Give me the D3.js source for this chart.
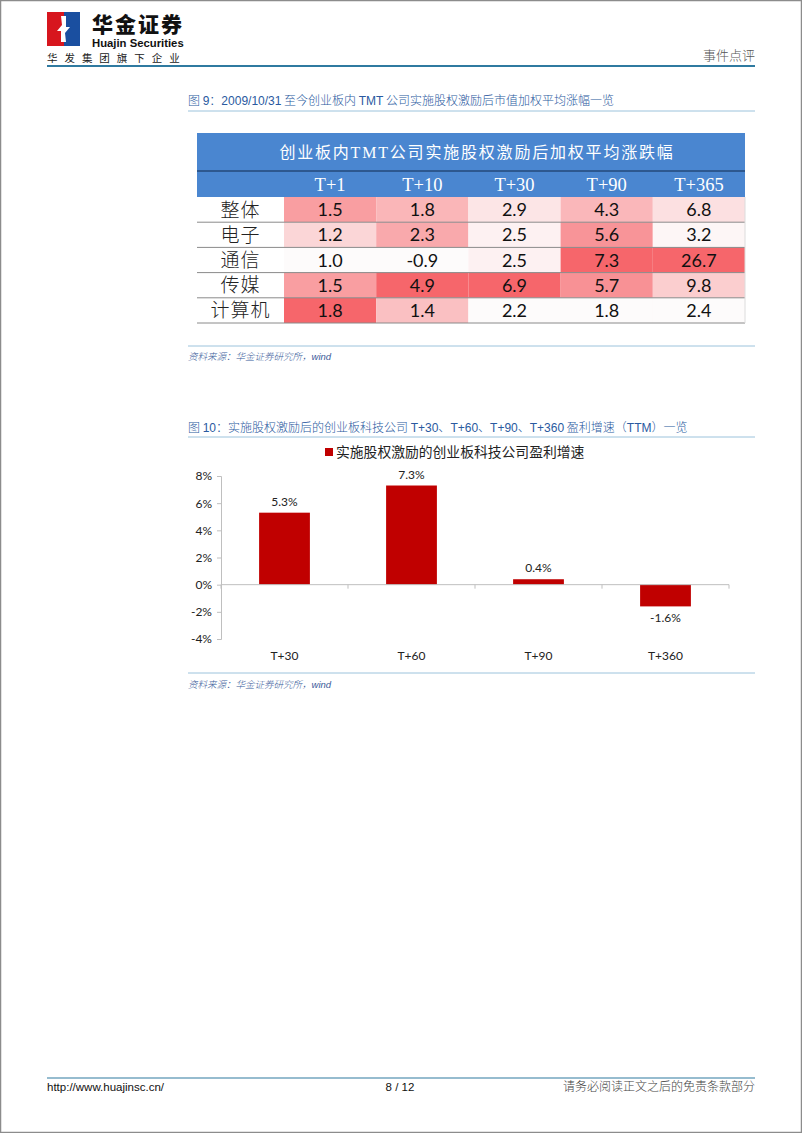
<!DOCTYPE html>
<html><head><meta charset="utf-8">
<script src="https://cdn.jsdelivr.net/npm/d3@7"></script>
<style>
html,body{margin:0;padding:0;background:#fff;}
svg{display:block;}
</style></head>
<body>
<svg id="page" width="802" height="1133"></svg>
<script>
// ---------- Data: table (图9) ----------
const tableTitle = "创业板内TMT公司实施股权激励后加权平均涨跌幅";
const tableCols = ["T+1", "T+10", "T+30", "T+90", "T+365"];
const tableRows = ["整体", "电子", "通信", "传媒", "计算机"];
const rowZhengti  = [1.5, 1.8, 2.9, 4.3, 6.8];
const rowDianzi   = [1.2, 2.3, 2.5, 5.6, 3.2];
const rowTongxin  = [1.0, -0.9, 2.5, 7.3, 26.7];
const rowChuanmei = [1.5, 4.9, 6.9, 5.7, 9.8];
const rowJisuanji = [1.8, 1.4, 2.2, 1.8, 2.4];
const tableValues = [rowZhengti, rowDianzi, rowTongxin, rowChuanmei, rowJisuanji];

// ---------- Data: bar chart (图10) ----------
const barCategories = ["T+30", "T+60", "T+90", "T+360"];
const barValues = [5.3, 7.3, 0.4, -1.6];
const barSeriesName = "实施股权激励的创业板科技公司盈利增速";
const yTicks = [-4, -2, 0, 2, 4, 6, 8];

const svg = d3.select("#page");
const CJK = "'Noto Sans CJK SC','Liberation Sans',sans-serif";
const CAL = "Lato,'Open Sans',sans-serif";

// page frame
svg.append("rect").attr("x",0.5).attr("y",0.5).attr("width",801).attr("height",1132)
  .attr("fill","none").attr("stroke","#8c8c8c").attr("stroke-width",1.5);

// ---------- Header ----------
const logo = svg.append("g");
logo.append("rect").attr("x",47).attr("y",12).attr("width",17).attr("height",34).attr("fill","#d7161e");
logo.append("rect").attr("x",64).attr("y",12).attr("width",16).attr("height",34).attr("fill","#1a4fa0");
logo.append("path").attr("d","M61,16 L66,16 L66,27 L70,27 L65,33 L66,42 L61,42 L61,31 L57,31 L62,25 Z").attr("fill","#fff");
svg.append("text").attr("x",92).attr("y",32).text("华金证券")
  .attr("font-family",CJK).attr("font-weight",900).attr("font-size",21).attr("fill","#111")
  .attr("letter-spacing",2);
svg.append("text").attr("x",92).attr("y",47).text("Huajin Securities")
  .attr("font-family","'Liberation Sans',sans-serif").attr("font-weight",700).attr("font-size",11.3).attr("fill","#111");
svg.append("text").attr("x",47).attr("y",62).text("华 发 集 团 旗 下 企 业")
  .attr("font-family",CJK).attr("font-size",10.5).attr("fill","#222").attr("letter-spacing",2.3);
svg.append("text").attr("x",755).attr("y",60).attr("text-anchor","end").text("事件点评")
  .attr("font-family",CJK).attr("font-weight",300).attr("font-size",13).attr("fill","#555");
svg.append("line").attr("x1",47).attr("x2",755).attr("y1",66).attr("y2",66)
  .attr("stroke","#2f7aa0").attr("stroke-width",2);

// ---------- Figure titles ----------
function figTitle(y, parts){
  const t = svg.append("text").attr("x",188).attr("y",y).attr("font-size",12).attr("fill","#2a5aa0");
  parts.forEach(p=>{
    t.append("tspan").text(p[0]).attr("font-family", p[1] ? "'Liberation Sans',sans-serif" : CJK)
     .attr("font-weight", p[1] ? 400 : 300);
  });
}
figTitle(105, [["图 ",0],["9",1],["：",0],["2009/10/31",1],[" 至今创业板内 ",0],["TMT",1],[" 公司实施股权激励后市值加权平均涨幅一览",0]]);
svg.append("line").attr("x1",188).attr("x2",755).attr("y1",111).attr("y2",111).attr("stroke","#9cc3dc").attr("stroke-width",1);

// ---------- Table ----------
const tL = 197, tR = 745, labelR = 284;
const tTop = 133, titleB = 171, headB = 197, tBot = 323;
const xCol = d3.scaleBand().domain(tableCols).range([labelR, tR]);
const yRow = d3.scaleBand().domain(tableRows).range([headB, tBot]);

svg.append("rect").attr("x",tL).attr("y",tTop).attr("width",tR-tL).attr("height",headB-tTop).attr("fill","#4a86d0");
svg.append("text").attr("x",(tL+tR)/2+6).attr("y",(tTop+titleB)/2+6).attr("text-anchor","middle")
  .attr("font-family","'Liberation Serif','Noto Sans CJK SC',serif").attr("font-size",16)
  .attr("letter-spacing",1.8).attr("fill","#fff").text(tableTitle);
svg.append("line").attr("x1",tL).attr("x2",tR).attr("y1",titleB).attr("y2",titleB).attr("stroke","#24497a").attr("stroke-width",1.5);
svg.selectAll(".colh").data(tableCols).join("text")
  .attr("x",d=>xCol(d)+xCol.bandwidth()/2).attr("y",(titleB+headB)/2+6.5).attr("text-anchor","middle")
  .attr("font-family","'Liberation Serif',serif").attr("font-size",18.5).attr("fill","#fff").text(d=>d);

// per-column heat colors (white -> red)
const colScales = tableCols.map((c,j)=>{
  const vals = tableValues.map(r=>r[j]);
  return d3.scaleLinear().domain([d3.min(vals), d3.max(vals)]).range(["#fdfbfb","#f6666b"]);
});
tableRows.forEach((r,i)=>{
  const g = svg.append("g");
  g.selectAll("rect").data(tableValues[i]).join("rect")
    .attr("x",(d,j)=>xCol(tableCols[j])).attr("y",yRow(r)).attr("width",xCol.bandwidth()).attr("height",yRow.bandwidth())
    .attr("fill",(d,j)=>colScales[j](d));
  g.selectAll("text").data(tableValues[i]).join("text")
    .attr("x",(d,j)=>xCol(tableCols[j])+xCol.bandwidth()/2).attr("y",yRow(r)+yRow.bandwidth()/2+6.5)
    .attr("text-anchor","middle").attr("font-family",CAL).attr("font-size",18).attr("fill","#111")
    .text(d=>d.toFixed(1));
  svg.append("text").attr("x",(tL+labelR)/2).attr("y",yRow(r)+yRow.bandwidth()/2+7)
    .attr("text-anchor","middle").attr("font-family",CJK).attr("font-weight",300).attr("font-size",19).attr("fill","#222")
    .attr("letter-spacing",1).text(r);
});
svg.selectAll(".rowline").data(tableRows).join("line")
  .attr("x1",tL).attr("x2",tR).attr("y1",d=>yRow(d)+yRow.bandwidth()).attr("y2",d=>yRow(d)+yRow.bandwidth())
  .attr("stroke","#8a8a8a").attr("stroke-width",1);
svg.append("line").attr("x1",tR).attr("x2",tR).attr("y1",headB).attr("y2",tBot).attr("stroke","#dcdcdc").attr("stroke-width",1);

// source 1
svg.append("line").attr("x1",188).attr("x2",755).attr("y1",346).attr("y2",346).attr("stroke","#9cc3dc").attr("stroke-width",1);
function source(y){
  const t = svg.append("text").attr("x",188).attr("y",y).attr("font-size",9.5).attr("fill","#3a5c9a").attr("font-style","italic");
  t.append("tspan").text("资料来源：华金证券研究所，").attr("font-family",CJK).attr("font-weight",300);
  t.append("tspan").text("wind").attr("font-family","'Liberation Sans',sans-serif");
}
source(360);

// ---------- Figure 10 ----------
figTitle(432, [["图 ",0],["10",1],["：实施股权激励后的创业板科技公司 ",0],["T+30",1],["、",0],["T+60",1],["、",0],["T+90",1],["、",0],["T+360",1],[" 盈利增速（",0],["TTM",1],["）一览",0]]);
svg.append("line").attr("x1",188).attr("x2",755).attr("y1",437).attr("y2",437).attr("stroke","#9cc3dc").attr("stroke-width",1);

const pL = 221, pR = 729;
const x = d3.scaleBand().domain(barCategories).range([pL, pR]).paddingInner(0.6).paddingOuter(0.3);
const xb = d3.scaleBand().domain(barCategories).range([pL, pR]);
const y = d3.scaleLinear().domain([-4, 8]).range([639, 476]);

// legend
svg.append("rect").attr("x",325).attr("y",448).attr("width",8).attr("height",8).attr("fill","#c00000");
svg.append("text").attr("x",336).attr("y",457).attr("font-family",CJK).attr("font-size",13.8).attr("fill","#222").text(barSeriesName);

// y axis
const yAxis = d3.axisLeft(y).tickValues(yTicks).tickFormat(d=>d+"%").tickSize(4).tickPadding(5);
const gy = svg.append("g").attr("transform",`translate(${pL},0)`).call(yAxis);
gy.select(".domain").attr("stroke","#bfbfbf");
gy.selectAll(".tick line").attr("stroke","#bfbfbf");
gy.selectAll(".tick text").attr("font-family",CAL).attr("font-size",12).attr("fill","#222");

// bars
svg.selectAll(".bar").data(barValues).join("rect")
  .attr("x",(d,i)=>x(barCategories[i])).attr("width",x.bandwidth())
  .attr("y",d=>y(Math.max(0,d))).attr("height",d=>Math.abs(y(d)-y(0)))
  .attr("fill","#c00000");

// x axis at zero
svg.append("line").attr("x1",pL).attr("x2",pR).attr("y1",y(0)).attr("y2",y(0)).attr("stroke","#bfbfbf");
svg.selectAll(".xtick").data(barCategories.concat(["end"])).join("line")
  .attr("x1",(d,i)=>pL+i*xb.step()).attr("x2",(d,i)=>pL+i*xb.step())
  .attr("y1",y(0)).attr("y2",y(0)+4).attr("stroke","#bfbfbf");
svg.selectAll(".xlab").data(barCategories).join("text")
  .attr("x",d=>xb(d)+xb.bandwidth()/2).attr("y",660).attr("text-anchor","middle")
  .attr("font-family",CAL).attr("font-size",12).attr("fill","#222").text(d=>d);

// data labels
svg.selectAll(".dl").data(barValues).join("text")
  .attr("x",(d,i)=>x(barCategories[i])+x.bandwidth()/2)
  .attr("y",d=> d>=0 ? y(d)-7 : y(d)+16)
  .attr("text-anchor","middle").attr("font-family",CAL).attr("font-size",12).attr("fill","#222")
  .text(d=>d.toFixed(1)+"%");

// source 2
svg.append("line").attr("x1",188).attr("x2",755).attr("y1",673).attr("y2",673).attr("stroke","#9cc3dc").attr("stroke-width",1);
source(688);

// ---------- Footer ----------
svg.append("line").attr("x1",47).attr("x2",755).attr("y1",1078).attr("y2",1078).attr("stroke","#2f7aa0").attr("stroke-width",1.2);
svg.append("text").attr("x",47).attr("y",1091).attr("font-family","'Liberation Sans',sans-serif").attr("font-size",11.5).attr("fill","#111").text("http://www.huajinsc.cn/");
svg.append("text").attr("x",400).attr("y",1091).attr("text-anchor","middle").attr("font-family","'Liberation Sans',sans-serif").attr("font-size",11.5).attr("fill","#111").text("8 / 12");
svg.append("text").attr("x",755).attr("y",1091).attr("text-anchor","end").attr("font-family",CJK).attr("font-weight",300).attr("font-size",12).attr("fill","#444").text("请务必阅读正文之后的免责条款部分");
</script>
</body></html>
